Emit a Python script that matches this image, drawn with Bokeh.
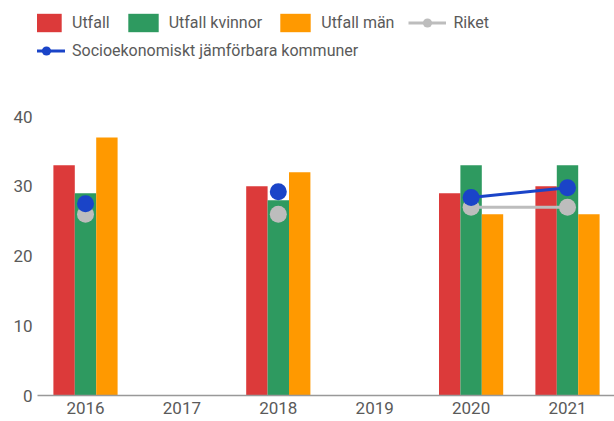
from bokeh.plotting import figure
from bokeh.models import Range1d, FixedTicker, Legend, LegendItem, ColumnDataSource
from bokeh.transform import dodge
from bokeh.embed import file_html
from bokeh.resources import INLINE

years = [2016, 2017, 2018, 2019, 2020, 2021]
utfall = [33, None, 30, None, 29, 30]
utfall_kvinnor = [29, None, 28, None, 33, 33]
utfall_man = [37, None, 32, None, 26, 26]
riket = [26, None, 26, None, 27, 27]
socio = [27.5, None, 29.2, None, 28.4, 29.8]
y_ticks = [0, 10, 20, 30, 40]

nan = float("nan")
def clean(v):
    return [nan if x is None else x for x in v]

src = ColumnDataSource(dict(
    year=years,
    utfall=clean(utfall),
    kv=clean(utfall_kvinnor),
    man=clean(utfall_man),
    riket=clean(riket),
    socio=clean(socio),
))

RED = "#DC3A3A"
GREEN = "#2E9A60"
ORANGE = "#FF9900"
BLUE = "#1A44C8"
GRAY = "#BDBDBD"
FONT = "Roboto"
TXT = "#5A5A5A"

FH = 395          # frame height
FW = 577          # frame width
px40 = 116        # y of the 40 tick
y_top = 40 * FH / (FH - px40)
LEFT = 37
x_start = 2016 - (85 - LEFT) / 96.4

p = figure(frame_width=FW, frame_height=FH, output_backend="svg", toolbar_location=None,
           x_range=Range1d(x_start, x_start + FW / 96.4), y_range=Range1d(0, y_top),
           min_border_left=LEFT, min_border_right=0, min_border_top=0, min_border_bottom=0)
p.outline_line_color = None
p.grid.visible = False

bw = 0.222
r1 = p.vbar(x=dodge("year", -bw, range=p.x_range), top="utfall", width=bw, source=src,
            color=RED, line_color=None)
r2 = p.vbar(x=dodge("year", 0, range=p.x_range), top="kv", width=bw, source=src,
            color=GREEN, line_color=None)
r3 = p.vbar(x=dodge("year", bw, range=p.x_range), top="man", width=bw, source=src,
            color=ORANGE, line_color=None)

l4 = p.line("year", "riket", source=src, color=GRAY, line_width=3)
s4 = p.scatter("year", "riket", source=src, size=17, color=GRAY, line_color=None)
l5 = p.line("year", "socio", source=src, color=BLUE, line_width=3)
s5 = p.scatter("year", "socio", source=src, size=17, color=BLUE, line_color=None)

p.xaxis.ticker = FixedTicker(ticks=years)
p.yaxis.ticker = FixedTicker(ticks=y_ticks)
for ax in (p.xaxis[0], p.yaxis[0]):
    ax.major_label_text_font = FONT
    ax.major_label_text_font_size = "17px"
    ax.major_label_text_color = TXT
    ax.major_tick_line_color = None
    ax.minor_tick_line_color = None
    ax.major_tick_out = 0
    ax.major_tick_in = 0
    ax.minor_tick_out = 0
    ax.minor_tick_in = 0
p.xaxis.axis_line_color = "#999999"
p.xaxis.axis_line_width = 1.5
p.yaxis.axis_line_color = None
p.xaxis.major_label_standoff = 6
p.yaxis.major_label_standoff = 5

def mk_legend(items, loc):
    return Legend(items=items, orientation="horizontal", location=loc,
                  label_text_font=FONT, label_text_font_size="16px", label_text_color=TXT,
                  glyph_width=38, glyph_height=23, label_standoff=7, spacing=14,
                  padding=0, margin=0, border_line_color=None, background_fill_alpha=0)

leg1 = mk_legend([
    LegendItem(label="Utfall", renderers=[r1]),
    LegendItem(label="Utfall kvinnor", renderers=[r2]),
    LegendItem(label="Utfall män", renderers=[r3]),
    LegendItem(label="Riket", renderers=[l4, s4]),
], (-10, FH - 22 - 11.5))
leg2 = mk_legend([
    LegendItem(label="Socioekonomiskt jämförbara kommuner", renderers=[l5, s5]),
], (-10, FH - 50 - 11.5))
p.add_layout(leg1)
p.add_layout(leg2)

open("out.html", "w").write(file_html(p, INLINE))
